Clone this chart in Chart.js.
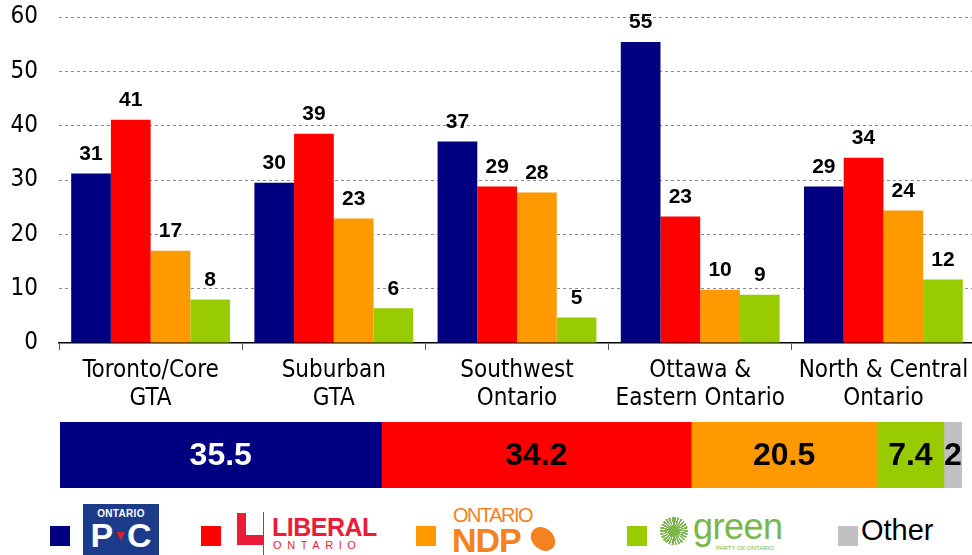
<!DOCTYPE html>
<html lang="en">
<head>
<meta charset="UTF-8">
<title>Ontario vote by region</title>
<script src="https://cdn.jsdelivr.net/npm/chart.js"></script>
<style>
  body { margin: 0; width: 972px; height: 555px; overflow: hidden; position: relative; background: #fff; font-family: 'Liberation Sans', Arial, sans-serif; }
  #mainWrap { position: absolute; left: 0; top: 0; width: 980px; height: 412px; }
  #totalWrap { position: absolute; left: 0; top: 412px; width: 972px; height: 86px; }
  .sq { position: absolute; top: 526px; width: 20px; height: 20px; }
  .abs { position: absolute; white-space: nowrap; }
</style>
</head>
<body>
<div id="mainWrap"><canvas id="mainChart" width="980" height="412"></canvas></div>
<div id="totalWrap"><canvas id="totalChart" width="972" height="86"></canvas></div>

<!-- legend (logos approximated with text) -->
<div class="sq" style="left:50px;background:#000080"></div>
<div class="abs" style="left:83px;top:504px;width:76px;height:51px;background:#1d3b8b;color:#fff;text-align:center;font-weight:bold">
  <div style="font-size:10px;margin-top:4px;letter-spacing:0.3px">ONTARIO</div>
  <div style="font-size:34px;line-height:34px;margin-top:-1px">P<span style="color:#e31b23;font-size:14px;vertical-align:top">&#9660;</span>C</div>
</div>

<div class="sq" style="left:201px;background:#ff0000"></div>
<div class="abs" style="left:237px;top:513px;width:9px;height:32px;background:#ed1b3a"></div>
<div class="abs" style="left:237px;top:535px;width:26px;height:10px;background:#ed1b3a"></div>
<div class="abs" style="left:263px;top:512px;width:1px;height:43px;background:#ed1b3a"></div>
<div class="abs" style="left:272px;top:513px;color:#ed1b3a;font-weight:bold;font-size:25px;letter-spacing:-0.5px">LIBERAL</div>
<div class="abs" style="left:273px;top:539px;color:#ed1b3a;font-size:11px;letter-spacing:5.6px">ONTARIO</div>

<div class="sq" style="left:416px;background:#ff9900"></div>
<div class="abs" style="left:453px;top:504px;color:#f58220;font-size:20px;letter-spacing:-1.5px">ONTARIO</div>
<div class="abs" style="left:452px;top:521px;color:#f58220;font-weight:bold;font-size:34px;letter-spacing:-1px">NDP</div>
<div class="abs" style="left:530px;top:528px;width:26px;height:22px;border-radius:40% 60% 40% 60%;background:#f58220;transform:rotate(20deg)"></div>

<div class="sq" style="left:627px;background:#99cc00"></div>
<div class="abs" style="left:660px;top:517px;width:28px;height:28px;border-radius:50%;background:repeating-conic-gradient(#7ab648 0deg 9deg, #fff 9deg 14deg)"></div>
<div class="abs" style="left:668px;top:525px;width:12px;height:12px;border-radius:50%;background:#7ab648"></div>
<div class="abs" style="left:693px;top:506px;color:#7ab648;font-size:36px;letter-spacing:-0.5px">green</div>
<div class="abs" style="left:716px;top:545px;color:#7ab648;font-size:6px">PARTY OF ONTARIO</div>

<div class="sq" style="left:838px;background:#c0c0c0"></div>
<div class="abs" style="left:861px;top:514px;color:#000;font-size:29px">Other</div>

<script>
// regional results
const regions = [
  ['Toronto/Core', 'GTA'],
  ['Suburban', 'GTA'],
  ['Southwest', 'Ontario'],
  ['Ottawa &', 'Eastern Ontario'],
  ['North & Central', 'Ontario']
];
const pcValues      = [31.2, 29.5, 37.1, 55.4, 28.8];
const liberalValues = [41.1, 38.5, 28.8, 23.3, 34.1];
const ndpValues     = [17.0, 22.9, 27.7,  9.8, 24.4];
const greenValues   = [ 8.0,  6.4,  4.7,  8.9, 11.7];
const yTicks = [0, 10, 20, 30, 40, 50, 60];

// overall result
const totalLabels = ['PC', 'Liberal', 'NDP', 'Green', 'Other'];
const totalValues = [35.5, 34.2, 20.5, 7.4, 2];

const partyColors = ['#000080', '#ff0000', '#ff9900', '#99cc00', '#c0c0c0'];
const axisFont = '"DejaVu Sans Condensed", "DejaVu Sans", Verdana, sans-serif';

const barLabels = {
  id: 'barLabels',
  afterDatasetsDraw(chart) {
    const ctx = chart.ctx;
    ctx.save();
    ctx.font = 'bold 21px "Liberation Sans", Arial, sans-serif';
    ctx.fillStyle = '#000';
    ctx.textAlign = 'center';
    ctx.textBaseline = 'bottom';
    chart.data.datasets.forEach((ds, i) => {
      chart.getDatasetMeta(i).data.forEach((bar, j) => {
        ctx.fillText(Math.round(ds.data[j]), bar.x, bar.y - 9);
      });
    });
    ctx.restore();
  }
};

// drop the automatic label padding so the plot area sits where the layout padding says
const noScalePadding = (s) => {
  s.paddingTop = 0; s.paddingBottom = 0; s.paddingLeft = 0; s.paddingRight = 0;
};

new Chart(document.getElementById('mainChart'), {
  type: 'bar',
  data: {
    labels: regions,
    datasets: [
      { label: 'PC', data: pcValues, backgroundColor: partyColors[0] },
      { label: 'Liberal', data: liberalValues, backgroundColor: partyColors[1] },
      { label: 'NDP', data: ndpValues, backgroundColor: partyColors[2] },
      { label: 'Green', data: greenValues, backgroundColor: partyColors[3] }
    ]
  },
  options: {
    responsive: false,
    animation: false,
    categoryPercentage: 0.867,
    barPercentage: 1,
    layout: { autoPadding: false, padding: { top: 17, right: 5, left: 0, bottom: 0 } },
    plugins: { legend: { display: false }, tooltip: { enabled: false } },
    scales: {
      y: {
        min: 0, max: 60,
        afterBuildTicks: (s) => { s.ticks = yTicks.map(v => ({ value: v })); },
        afterFit: (s) => { s.width = 59; noScalePadding(s); },
        border: { display: false, dash: [3, 3] },
        grid: {
          drawTicks: false,
          color: (c) => c.tick.value === 0 ? 'rgba(0,0,0,0)' : '#8c8c8c',
          lineWidth: 1
        },
        ticks: {
          padding: 21,
          color: '#000',
          font: { family: axisFont, size: 24 }
        }
      },
      x: {
        afterFit: (s) => { s.height = 69; noScalePadding(s); },
        border: { display: true, color: '#000', width: 1.5 },
        grid: { display: true, drawOnChartArea: false, drawTicks: true, tickLength: 7, color: '#555', offset: true },
        ticks: {
          padding: 7,
          color: '#000',
          maxRotation: 0,
          autoSkip: false,
          font: { family: axisFont, size: 24, lineHeight: '28px' }
        }
      }
    }
  },
  plugins: [barLabels]
});

const segmentLabels = {
  id: 'segmentLabels',
  afterDatasetsDraw(chart) {
    const ctx = chart.ctx;
    ctx.save();
    ctx.font = 'bold 32px "Liberation Sans", Arial, sans-serif';
    ctx.textAlign = 'center';
    ctx.textBaseline = 'middle';
    chart.data.datasets.forEach((ds, i) => {
      const bar = chart.getDatasetMeta(i).data[0];
      const c = bar.getCenterPoint();
      ctx.fillStyle = i === 0 ? '#fff' : '#000';
      ctx.fillText(ds.data[0], c.x, c.y + 1);
    });
    ctx.restore();
  }
};

new Chart(document.getElementById('totalChart'), {
  type: 'bar',
  data: {
    labels: ['Total'],
    datasets: totalLabels.map((name, i) => ({
      label: name,
      data: [totalValues[i]],
      backgroundColor: partyColors[i]
    }))
  },
  options: {
    indexAxis: 'y',
    responsive: false,
    animation: false,
    barPercentage: 1,
    categoryPercentage: 1,
    layout: { padding: { left: 60, right: 10, top: 10, bottom: 10 } },
    plugins: { legend: { display: false }, tooltip: { enabled: false } },
    scales: {
      x: { stacked: true, display: false, min: 0, max: totalValues.reduce((a, b) => a + b, 0) },
      y: { stacked: true, display: false }
    }
  },
  plugins: [segmentLabels]
});
</script>
</body>
</html>
